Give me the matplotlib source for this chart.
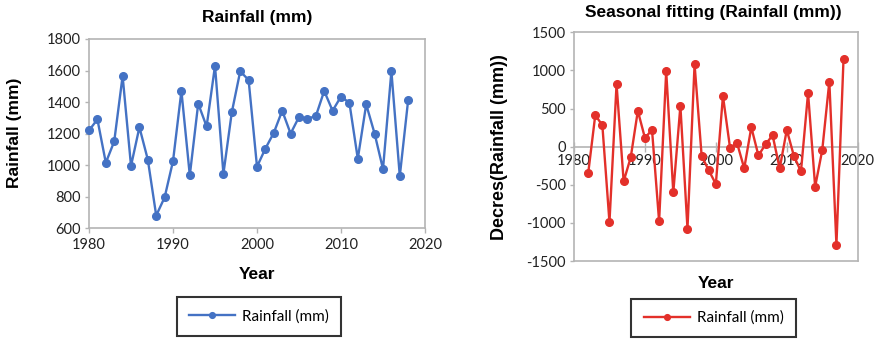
import numpy as np
import matplotlib
matplotlib.use("Agg")
import matplotlib.pyplot as plt

plt.rcParams["axes.unicode_minus"] = False

# data
years = list(range(1980, 2019))
rainfall = [1220, 1290, 1015, 1150, 1565, 995, 1240, 1035, 680, 795,
            1025, 1470, 935, 1390, 1245, 1630, 945, 1335, 1595, 1540,
            990, 1105, 1205, 1345, 1200, 1305, 1295, 1310, 1470, 1345,
            1435, 1395, 1040, 1385, 1200, 975, 1595, 930, 1415]

years_fit = list(range(1982, 2019))
fitting = [-350, 415, 280, -990, 820, -455, -140, 470, 115, 220,
           -980, 990, -600, 535, -1075, 1080, -125, -310, -490, 665,
           -15, 45, -285, 255, -115, 30, 150, -285, 220, -120,
           -325, 705, -525, -45, 855, -1285, 1150]

blue = "#4472C4"
red = "#E3302A"
grey = "#B4B4B4"
tickfont = "Lato"
boldfont = "Liberation Sans"

fig = plt.figure(figsize=(8.77, 3.39), dpi=100)

######## left chart ########
ax1 = fig.add_axes([0.1015, 0.327, 0.3831, 0.558])
ax1.plot(years, rainfall, color=blue, lw=1.7, marker="o", ms=5.5,
         label="Rainfall (mm)", clip_on=False, zorder=3)
ax1.set_xlim(1980, 2020)
ax1.set_ylim(600, 1800)
ax1.set_xticks(range(1980, 2021, 10))
ax1.set_yticks(range(600, 1801, 200))
for s in ax1.spines.values():
    s.set_color(grey)
    s.set_linewidth(1.2)
ax1.tick_params(axis="both", colors=grey, length=3.5, width=1, labelsize=10.5, labelcolor="#222222")
ax1.tick_params(axis="y", length=3, pad=3)
for lab in ax1.get_xticklabels() + ax1.get_yticklabels():
    lab.set_family(tickfont)

fig.text(0.293, 0.947, "Rainfall (mm)", ha="center", va="center",
         fontsize=12.5, fontweight="bold", family=boldfont)
fig.text(0.293, 0.189, "Year", ha="center", va="center",
         fontsize=12.5, fontweight="bold", family=boldfont)
fig.text(0.017, 0.607, "Rainfall (mm)", ha="center", va="center", rotation=90,
         fontsize=12.5, fontweight="bold", family=boldfont)

leg1 = ax1.legend(loc="center", bbox_to_anchor=(0.2953, 0.0664),
                  bbox_transform=fig.transFigure, frameon=True, fancybox=False,
                  prop={"family": tickfont, "size": 11}, handlelength=3.0,
                  handletextpad=0.5, borderpad=0.8, borderaxespad=0,
                  markerscale=0.75)
leg1.get_frame().set_edgecolor("black")
leg1.get_frame().set_linewidth(1.5)

######## right chart ########
ax2 = fig.add_axes([0.6545, 0.230, 0.3235, 0.6746])
ax2.plot(years_fit, fitting, color=red, lw=1.7, marker="o", ms=5.5,
         label="Rainfall (mm)", zorder=3)
ax2.set_xlim(1980, 2020)
ax2.set_ylim(-1500, 1500)
ax2.set_xticks(range(1980, 2021, 10))
ax2.set_yticks(range(-1500, 1501, 500))
for s in ax2.spines.values():
    s.set_color(grey)
    s.set_linewidth(1.2)
ax2.spines["bottom"].set_position(("data", 0))
ax2.axhline(-1500, color=grey, lw=1.2, clip_on=False, zorder=0)
ax2.tick_params(axis="both", colors=grey, width=1, labelsize=10.5, labelcolor="#222222")
ax2.tick_params(axis="x", direction="inout", length=7, pad=2)
ax2.tick_params(axis="y", length=3, pad=3)
for lab in ax2.get_xticklabels() + ax2.get_yticklabels():
    lab.set_family(tickfont)

fig.text(0.813, 0.962, "Seasonal fitting (Rainfall (mm))", ha="center", va="center",
         fontsize=12.5, fontweight="bold", family=boldfont)
fig.text(0.817, 0.165, "Year", ha="center", va="center",
         fontsize=12.5, fontweight="bold", family=boldfont)
fig.text(0.570, 0.566, "Decres(Rainfall (mm))", ha="center", va="center", rotation=90,
         fontsize=13, fontweight="bold", family=boldfont)

leg2 = ax2.legend(loc="center", bbox_to_anchor=(0.814, 0.062),
                  bbox_transform=fig.transFigure, frameon=True, fancybox=False,
                  prop={"family": tickfont, "size": 11}, handlelength=3.0,
                  handletextpad=0.5, borderpad=0.8, borderaxespad=0,
                  markerscale=0.75)
leg2.get_frame().set_edgecolor("black")
leg2.get_frame().set_linewidth(1.5)

plt.savefig("out.png", dpi=100)
